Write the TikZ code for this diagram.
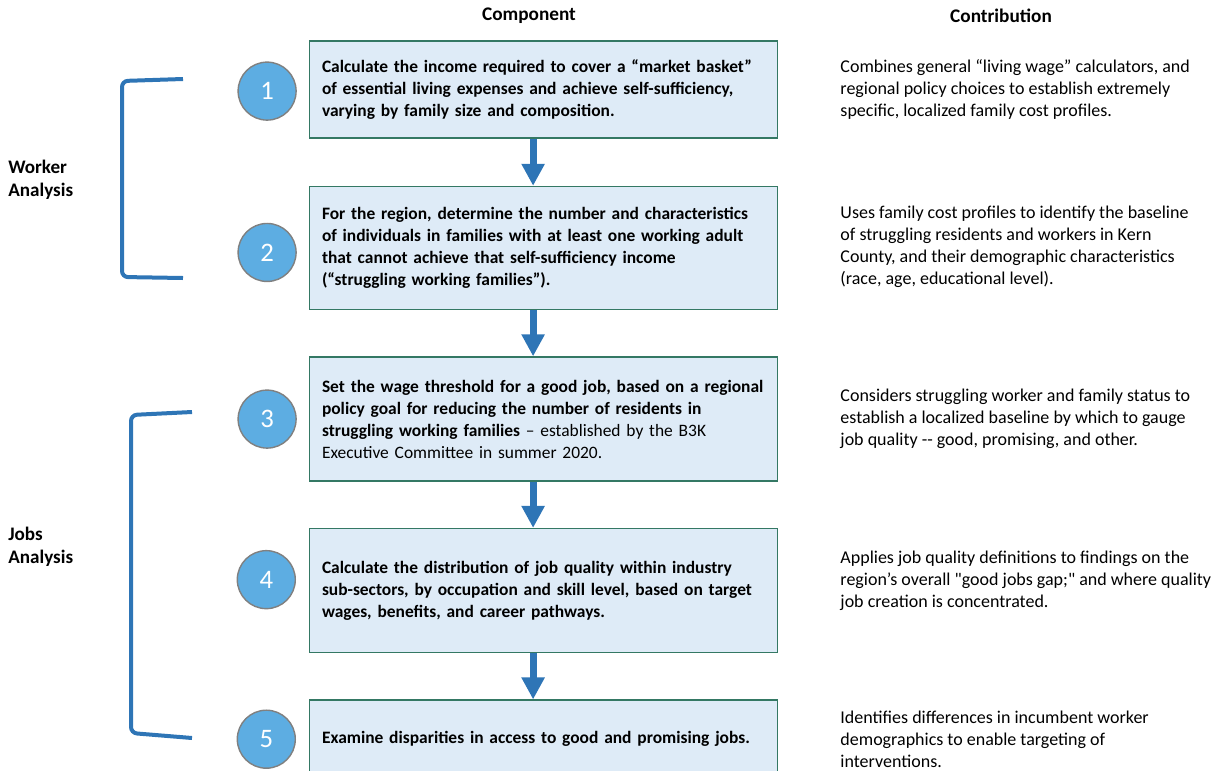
\documentclass[tikz,border=0pt]{standalone}
\usepackage{fontspec}
\setmainfont{Carlito}
\newfontfamily\quotefont{Carlito}
\usepackage{xcolor}
\usepackage{tikz}
\usetikzlibrary{positioning}
\usetikzlibrary{calc,arrows.meta}

\definecolor{boxfill}{RGB}{222,235,247}
\definecolor{boxline}{RGB}{52,120,100}
\definecolor{flowblue}{RGB}{46,117,182}
\definecolor{numfill}{RGB}{93,173,226}
\definecolor{numline}{RGB}{128,128,128}

\begin{document}
\begin{tikzpicture}[node distance=1.15cm,
  comp/.style={draw=boxline, line width=1.1pt, fill=boxfill, inner xsep=3.1mm,
    text width=11.075cm, align=left, font=\fontsize{12.4}{15.6}\selectfont\bfseries},
  contr/.style={inner sep=0pt, align=left, font=\fontsize{12.8}{15.6}\selectfont},
  num/.style={circle, draw=numline, line width=1pt, fill=numfill, text=white,
    minimum size=1.45cm, inner sep=0pt, font=\fontsize{19}{19}\selectfont},
  flow/.style={draw=flowblue, line width=1.75mm, -{Triangle[width=5.5mm,length=5.5mm]}},
  brace/.style={draw=flowblue, line width=1mm, rounded corners=1.5mm},
  group/.style={inner sep=0pt, align=left, font=\fontsize{13.6}{16.4}\selectfont\bfseries},
  head/.style={inner sep=0pt, font=\fontsize{13.7}{16}\selectfont\bfseries}]
  \useasboundingbox (0,0) rectangle (30.625,-19.25);

  \node(HeadComp)  [head] at (13.225,-0.4) {Component};
  \node(HeadContr) [head] at ([xshift=11.8cm] HeadComp) {Contribution};

  \node(Comp1) [comp, minimum height=2.425cm] at (13.5875,-2.2375)
    {Calculate the income required to cover a “market basket”\\
     of essential living expenses and achieve self-sufficiency,\\
     varying by family size and composition.};
  \node(Comp2) [comp, minimum height=3.075cm, below=1.175cm of Comp1]
    {For the region, determine the number and characteristics\\
     of individuals in families with at least one working adult\\
     that cannot achieve that self-sufficiency income\\
     (“struggling working families”).};
  \node(Comp3) [comp, minimum height=3.1cm, below=of Comp2]
    {Set the wage threshold for a good job, based on a regional\\
     policy goal for reducing the number of residents in\\
     struggling working families {\mdseries – established by the B3K\\
     Executive Committee in summer 2020.}};
  \node(Comp4) [comp, minimum height=3.1cm, below=of Comp3]
    {Calculate the distribution of job quality within industry\\
     sub-sectors, by occupation and skill level, based on target\\
     wages, benefits, and career pathways.};
  \node(Comp5) [comp, minimum height=1.95cm, below=of Comp4]
    {Examine disparities in access to good and promising jobs.};

  \node(Num1) [num] at ([xshift=-6.91cm, yshift=-0.4mm] Comp1) {1};
  \node(Num2) [num] at ([xshift=-6.91cm, yshift=-1.1mm] Comp2) {2};
  \node(Num3) [num] at ([xshift=-6.91cm] Comp3) {3};
  \node(Num4) [num] at ([xshift=-6.93cm, yshift=2.75mm] Comp4) {4};
  \node(Num5) [num] at ([xshift=-6.93cm] Comp5) {5};

  \foreach \a/\b in {Comp1/Comp2,Comp2/Comp3,Comp3/Comp4,Comp4/Comp5} {
    \draw[flow] ([xshift=-2.6mm]\a.south) -- ([xshift=-2.6mm]\b.north);
  }

  \node(Contr1) [contr, right=1.55cm of Comp1]
    {Combines general “living wage” calculators, and\\
     regional policy choices to establish extremely\\
     specific, localized family cost profiles.};
  \node(Contr2) [contr, right=1.55cm of Comp2, yshift=0.4mm]
    {Uses family cost profiles to identify the baseline\\
     of struggling residents and workers in Kern\\
     County, and their demographic characteristics\\
     (race, age, educational level).};
  \node(Contr3) [contr, right=1.55cm of Comp3]
    {Considers struggling worker and family status to\\
     establish a localized baseline by which to gauge\\
     job quality -{}- good, promising, and other.};
  \node(Contr4) [contr, right=1.55cm of Comp4, yshift=2.5mm]
    {Applies job quality definitions to findings on the\\
     region’s overall {\quotefont "}good jobs gap;{\quotefont "} and where quality\\
     job creation is concentrated.};
  \node(Contr5) [contr, right=1.55cm of Comp5]
    {Identifies differences in incumbent worker\\
     demographics to enable targeting of\\
     interventions.};

  \node(Worker) [group, anchor=west] at (0.2,-4.5)   {Worker\\Analysis};
  \node(Jobs)   [group, anchor=west] at (0.2,-13.66) {Jobs\\Analysis};

  \draw[brace] (4.575,-1.975) -- (3.05,-2.025) -- (3.05,-6.925) -- (4.575,-6.95);
  \draw[brace] (4.8,-10.3) -- (3.275,-10.375) -- (3.275,-18.325) -- (4.8,-18.45);

\end{tikzpicture}
\end{document}
